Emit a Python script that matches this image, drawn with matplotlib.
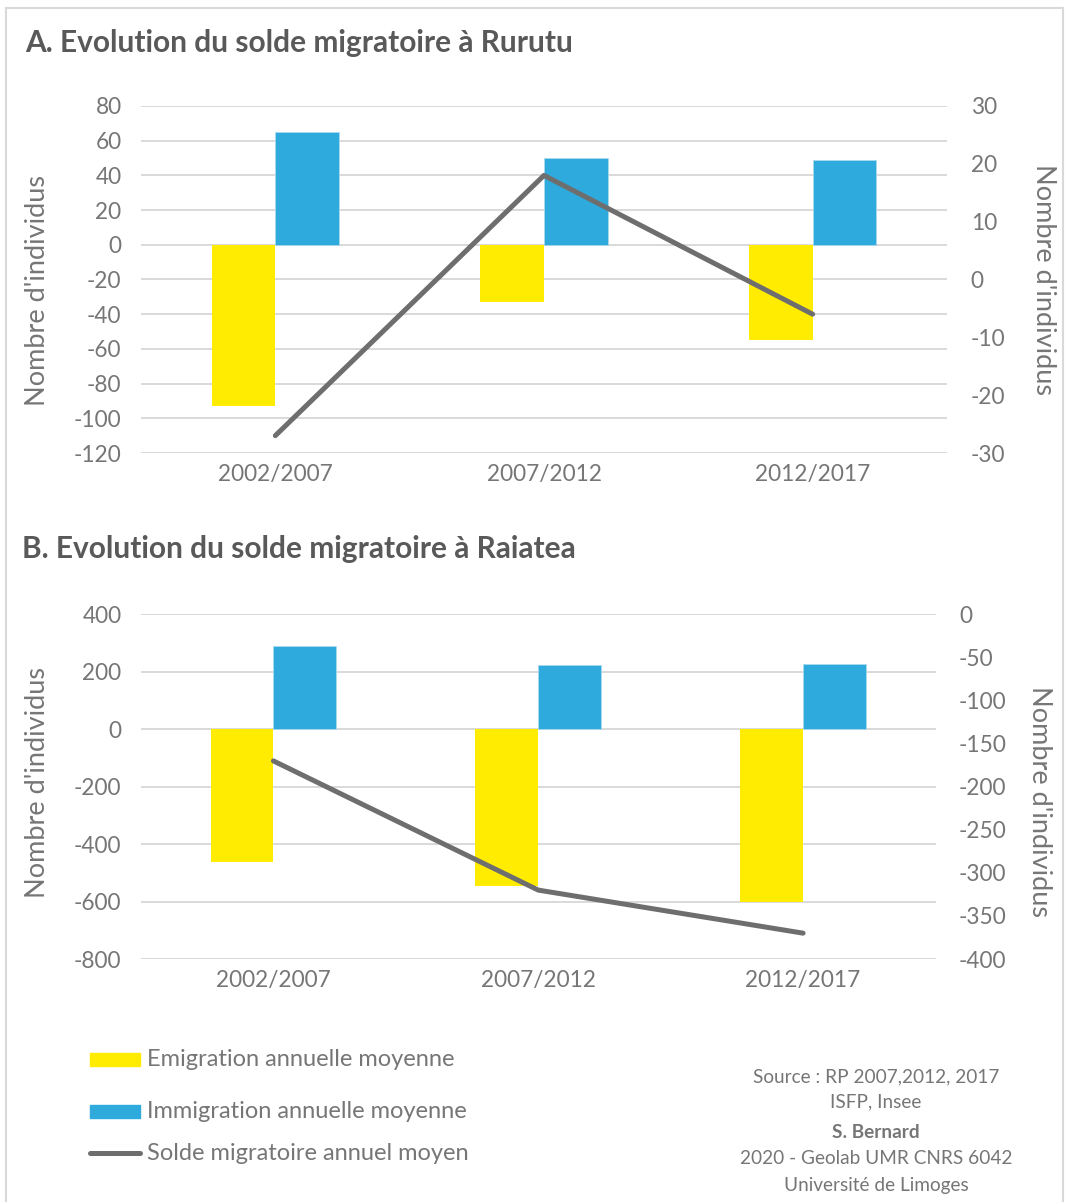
import matplotlib.pyplot as plt
import matplotlib as mpl
from matplotlib.patches import Rectangle
from matplotlib.lines import Line2D
import numpy as np

mpl.rcParams.update({
    "font.family": ["Lato", "DejaVu Sans"],
    "font.size": 15,
    "axes.unicode_minus": False,
})

W, H = 1065, 1202
DPI = 100

YELLOW = "#FFEC00"
BLUE = "#2EAADC"
LINE = "#6E6E6E"
GRID = "#D9D9D9"
TICK = "#767676"
TITLE = "#595959"

periods = ["2002/2007", "2007/2012", "2012/2017"]

# Rurutu
rurutu_emig = [-93, -33, -55]
rurutu_immig = [65, 50, 49]
rurutu_solde = [-27, 18, -6]

# Raiatea
raiatea_emig = [-463, -547, -600]
raiatea_immig = [290, 224, 228]
raiatea_solde = [-170, -320, -370]

legend_labels = ["Emigration annuelle moyenne",
                 "Immigration annuelle moyenne",
                 "Solde migratoire annuel moyen"]
source_lines = ["Source : RP 2007,2012, 2017", "ISFP, Insee", "S. Bernard",
                "2020 - Geolab UMR CNRS 6042", "Université de Limoges"]

TICK_FS = 16.3
LABEL_FS = 19.5
TITLE_FS = 21.5

fig = plt.figure(figsize=(W / DPI, H / DPI), dpi=DPI)


def box(x0, y0, x1, y1):
    # pixel box (top-left origin) -> figure fraction rect
    return [x0 / W, 1 - y1 / H, (x1 - x0) / W, (y1 - y0) / H]


def fx(x):
    return x / W


def fy(y):
    return 1 - y / H


def panel(rect, emig, immig, solde, ylim, yticks, y2lim, y2ticks):
    ax = fig.add_axes(rect)
    x = np.arange(len(periods))
    bw = 0.237
    ax.bar(x - bw / 2, emig, bw, color=YELLOW, zorder=2)
    ax.bar(x + bw / 2, immig, bw, color=BLUE, edgecolor="#A9D8EE", linewidth=0.6, zorder=2)
    ax.set_xlim(-0.5, len(periods) - 0.5)
    ax.set_ylim(*ylim)
    ax.set_yticks(yticks)
    ax.set_xticks(x)
    ax.set_xticklabels(periods)
    ax.grid(True, axis="y", color=GRID, linewidth=1.4, zorder=0)
    ax.set_axisbelow(True)
    for s in ax.spines.values():
        s.set_visible(False)
    ax.tick_params(axis="both", length=0, colors=TICK, labelsize=TICK_FS)
    ax.tick_params(axis="y", pad=14)
    ax.tick_params(axis="x", pad=8)

    ax2 = ax.twinx()
    ax2.plot(x, solde, color=LINE, lw=3.6, solid_capstyle="round",
             solid_joinstyle="round", zorder=3)
    ax2.set_ylim(*y2lim)
    ax2.set_yticks(y2ticks)
    for s in ax2.spines.values():
        s.set_visible(False)
    ax2.tick_params(axis="y", length=0, colors=TICK, labelsize=TICK_FS, pad=17)
    return ax, ax2


# A. Rurutu
panel(box(141, 106, 947, 453), rurutu_emig, rurutu_immig, rurutu_solde,
      (-120, 80), np.arange(-120, 81, 20), (-30, 30), np.arange(-30, 31, 10))
fig.text(fx(25), fy(43), "A. Evolution du solde migratoire à Rurutu",
         fontsize=TITLE_FS, fontweight="bold", color=TITLE, va="center", ha="left")
fig.text(fx(38), fy(291), "Nombre d'individus", rotation=90, fontsize=LABEL_FS,
         color=TICK, va="center", ha="center")
fig.text(fx(1043), fy(280), "Nombre d'individus", rotation=-90, fontsize=LABEL_FS,
         color=TICK, va="center", ha="center")

# B. Raiatea
panel(box(141, 614.5, 935.5, 959), raiatea_emig, raiatea_immig, raiatea_solde,
      (-800, 400), np.arange(-800, 401, 200), (-400, 0), np.arange(-400, 1, 50))
fig.text(fx(22), fy(549), "B. Evolution du solde migratoire à Raiatea",
         fontsize=TITLE_FS, fontweight="bold", color=TITLE, va="center", ha="left")
fig.text(fx(38), fy(783), "Nombre d'individus", rotation=90, fontsize=LABEL_FS,
         color=TICK, va="center", ha="center")
fig.text(fx(1040), fy(801), "Nombre d'individus", rotation=-90, fontsize=LABEL_FS,
         color=TICK, va="center", ha="center")

# legend drawn by hand
ly = [1059, 1111, 1153]
fig.patches.append(Rectangle((fx(90), fy(1066)), fx(50), 13 / H, color=YELLOW,
                             transform=fig.transFigure))
fig.patches.append(Rectangle((fx(90), fy(1118)), fx(50), 13 / H, color=BLUE,
                             transform=fig.transFigure))
fig.lines.append(Line2D([fx(90), fx(140)], [fy(1153), fy(1153)], color=LINE, lw=3.6,
                        solid_capstyle="round", transform=fig.transFigure))
for lab, y in zip(legend_labels, ly):
    fig.text(fx(147), fy(y), lab, fontsize=17, color=TICK, va="center", ha="left")

# source block
sy = [1077, 1102, 1133, 1159, 1185]
for txt, y in zip(source_lines, sy):
    fig.text(fx(876), fy(y), txt, fontsize=13.7, color=TICK, va="center", ha="center",
             fontweight="bold" if txt == "S. Bernard" else "normal")

# light frame
frame = dict(color="#D9D9D9", lw=1.5, transform=fig.transFigure)
fig.lines.append(Line2D([fx(6), fx(1063)], [fy(8), fy(8)], **frame))
fig.lines.append(Line2D([fx(6), fx(6)], [fy(8), 0], **frame))
fig.lines.append(Line2D([fx(1063), fx(1063)], [fy(8), 0], **frame))

fig.savefig("out.png", dpi=DPI)
